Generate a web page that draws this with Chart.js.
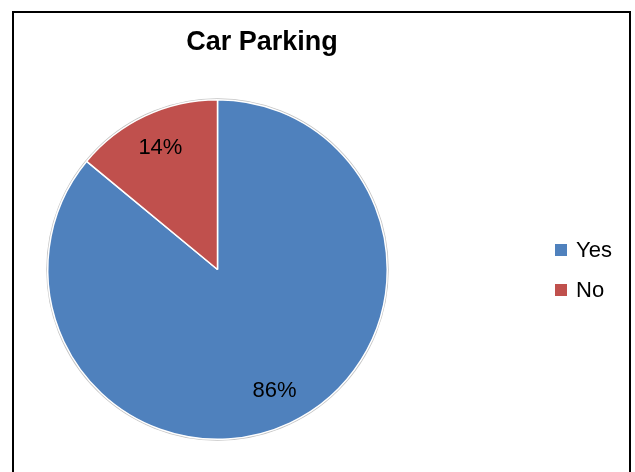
<!DOCTYPE html>
<html>
<head>
<meta charset="utf-8">
<script src="https://cdn.jsdelivr.net/npm/chart.js@4"></script>
<style>
  html, body { margin: 0; padding: 0; background: #fff; }
  #wrap { width: 635px; height: 472px; }
</style>
</head>
<body>
<div id="wrap"><canvas id="parkingChart" width="635" height="472"></canvas></div>
<script>
const chartTitle = 'Car Parking';
const categories = ['Yes', 'No'];
const shares = [86, 14];
const sliceColors = ['#4F81BD', '#C0504D'];

const FONT = '"Liberation Sans", Arial, sans-serif';

// frame, title and legend drawn straight onto the canvas
const decorations = {
  id: 'decorations',
  beforeDatasetsDraw(chart) {
    const { ctx } = chart;
    const arc = chart.getDatasetMeta(0).data[0];
    if (!arc) return;
    // soft grey rim around the pie
    ctx.save();
    ctx.beginPath();
    ctx.arc(arc.x, arc.y, arc.outerRadius + 0.5, 0, Math.PI * 2);
    ctx.strokeStyle = 'rgba(120,120,120,0.45)';
    ctx.lineWidth = 2;
    ctx.stroke();
    ctx.restore();
  },
  afterDraw(chart) {
    const { ctx } = chart;
    ctx.save();

    // outer frame
    ctx.strokeStyle = '#000';
    ctx.lineWidth = 2;
    ctx.strokeRect(13, 12, 617, 480);

    // title
    ctx.fillStyle = '#000';
    ctx.font = 'bold 27px ' + FONT;
    ctx.textAlign = 'center';
    ctx.textBaseline = 'alphabetic';
    ctx.fillText(chartTitle, 262, 50);

    // percentage labels inside slices
    const meta = chart.getDatasetMeta(0);
    const total = shares.reduce((a, b) => a + b, 0);
    ctx.font = '22px ' + FONT;
    ctx.textBaseline = 'middle';
    meta.data.forEach((el, i) => {
      const mid = (el.startAngle + el.endAngle) / 2;
      const r = el.outerRadius * 0.79;
      const x = el.x + Math.cos(mid) * r;
      const y = el.y + Math.sin(mid) * r;
      ctx.fillText(Math.round(shares[i] / total * 100) + '%', x, y);
    });

    // legend
    ctx.textAlign = 'left';
    categories.forEach((label, i) => {
      const cy = 250 + i * 40;
      ctx.fillStyle = sliceColors[i];
      ctx.fillRect(555, cy - 6, 12, 12);
      ctx.fillStyle = '#000';
      ctx.fillText(label, 576, cy + 1);
    });

    ctx.restore();
  }
};

new Chart(document.getElementById('parkingChart'), {
  type: 'pie',
  data: {
    labels: categories,
    datasets: [{
      data: shares,
      backgroundColor: sliceColors,
      borderColor: '#fff',
      borderWidth: 1.5
    }]
  },
  options: {
    responsive: false,
    animation: false,
    layout: { padding: { left: 47, right: 247, top: 99, bottom: 32 } },
    plugins: {
      legend: { display: false },
      title: { display: false },
      tooltip: { enabled: false }
    }
  },
  plugins: [decorations]
});
</script>
</body>
</html>
